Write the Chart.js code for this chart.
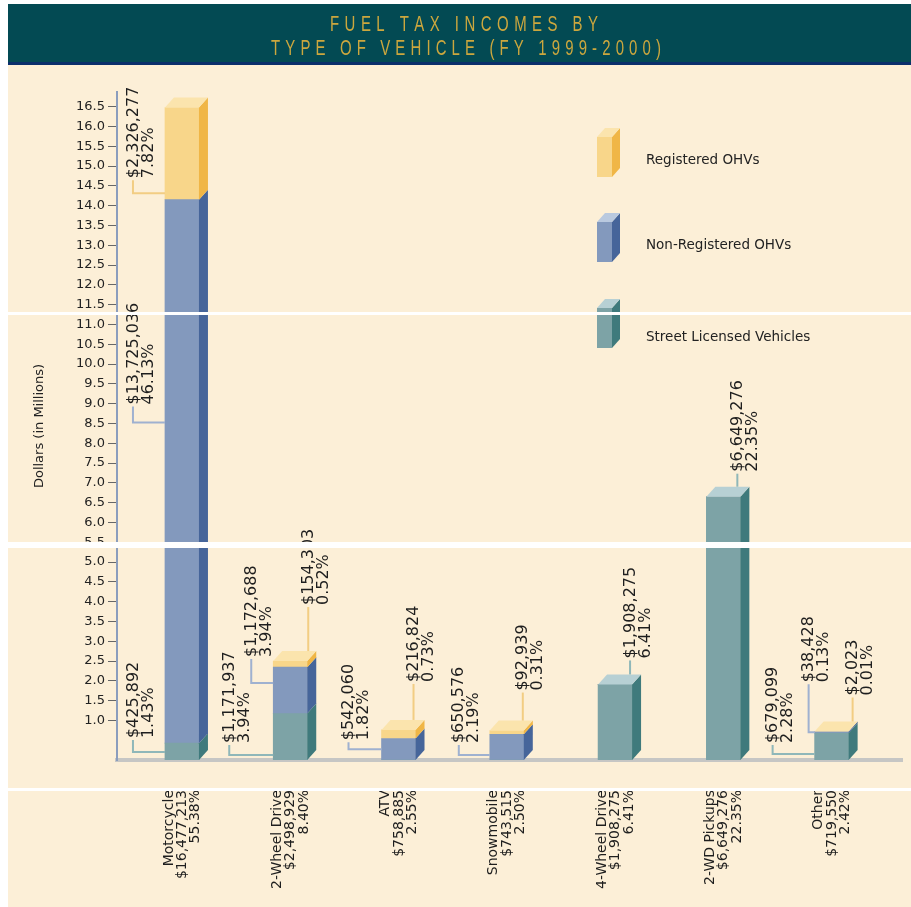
<html>
  <head>
    <meta charset="UTF-8" />
    <script src="https://cdn.jsdelivr.net/npm/chart.js"></script>
    <style>
      body { margin: 0; background: #fff; }
    </style>
  </head>
  <body>
    <canvas id="myChart" width="911" height="907"></canvas>
    <script>
      // ---- data (dollars in millions) ----
      const categories = ["Motorcycle", "2-Wheel Drive", "ATV", "Snowmobile", "4-Wheel Drive", "2-WD Pickups", "Other"];
      const categoryTotals = ["$16,477,213", "$2,498,929", "$758,885", "$743,515", "$1,908,275", "$6,649,276", "$719,550"];
      const categoryShares = ["55.38%", "8.40%", "2.55%", "2.50%", "6.41%", "22.35%", "2.42%"];

      const streetLicensed = [0.425892, 1.171937, 0, 0, 1.908275, 6.649276, 0.679099];
      const nonRegistered = [13.725036, 1.172688, 0.54206, 0.650576, 0, 0, 0.038428];
      const registered = [2.326277, 0.154303, 0.216824, 0.092939, 0, 0, 0.002023];

      const streetAmounts = ["$425,892", "$1,171,937", "", "", "$1,908,275", "$6,649,276", "$679,099"];
      const streetShares = ["1.43%", "3.94%", "", "", "6.41%", "22.35%", "2.28%"];
      const nonRegAmounts = ["$13,725,036", "$1,172,688", "$542,060", "$650,576", "", "", "$38,428"];
      const nonRegShares = ["46.13%", "3.94%", "1.82%", "2.19%", "", "", "0.13%"];
      const regAmounts = ["$2,326,277", "$154,303", "$216,824", "$92,939", "", "", "$2,023"];
      const regShares = ["7.82%", "0.52%", "0.73%", "0.31%", "", "", "0.01%"];

      const yTicks = [];
      for (let v = 1; v <= 16.5; v += 0.5) yTicks.push(v);

      // ---- look ----
      const FONT = '"DejaVu Sans", sans-serif';
      const CREAM = "#fcefd7";
      const DEPTH_X = 9;
      const DEPTH_Y = 10;

      const palette = {
        street: { front: "#7da3a6", side: "#3f7a7c", top: "#b7d0d4", line: "#8fb7b9" },
        nonReg: { front: "#8399bd", side: "#46659a", top: "#b9c9df", line: "#9fb1d0" },
        reg: { front: "#f8d68a", side: "#f0b646", top: "#fbe4ad", line: "#f2cd83" },
      };

      // where each value label sits, relative to its bar
      const labelLayout = {
        street: [
          { side: "left", dx: -32, at: 0.47, drop: 14 },
          { side: "left", dx: -44, at: 0.11, drop: 12 },
          null,
          null,
          { side: "top", dx: -2, lift: 16 },
          { side: "top", dx: -3, lift: 15 },
          { side: "left", dx: -42, at: 0.22, drop: 11 },
        ],
        nonReg: [
          { side: "left", dx: -32, at: 0.59, drop: 18 },
          { side: "left", dx: -22, at: 0.66, drop: 26 },
          { side: "left", dx: -33, at: 0.5, drop: 9 },
          { side: "left", dx: -31, at: 0.19, drop: 12 },
          null,
          null,
          { side: "left", dx: -6, at: 0.5, drop: 50 },
        ],
        reg: [
          { side: "left", dx: -32, at: 0.07, drop: 15 },
          { side: "top", dx: 1, lift: 46 },
          { side: "top", dx: -2, lift: 38 },
          { side: "top", dx: -1, lift: 30 },
          null,
          null,
          { side: "top", dx: 4, lift: 26 },
        ],
      };

      const xy = arr => arr.map((v, i) => ({ x: i, y: v }));

      const seriesInfo = [
        { key: "street", label: "Street Licensed Vehicles", values: streetLicensed, amounts: streetAmounts, shares: streetShares },
        { key: "nonReg", label: "Non-Registered OHVs", values: nonRegistered, amounts: nonRegAmounts, shares: nonRegShares },
        { key: "reg", label: "Registered OHVs", values: registered, amounts: regAmounts, shares: regShares },
      ];

      function drawSpaced(ctx, text, cx, y, width, squeeze) {
        const chars = [...text];
        const widths = chars.map(ch => ctx.measureText(ch).width * squeeze);
        const sum = widths.reduce((a, b) => a + b, 0);
        const gap = (width - sum) / (chars.length - 1);
        let x = cx - width / 2;
        chars.forEach((ch, i) => {
          ctx.save();
          ctx.translate(x, y);
          ctx.scale(squeeze, 1);
          ctx.fillText(ch, 0, 0);
          ctx.restore();
          x += widths[i] + gap;
        });
      }

      function drawBox3d(ctx, left, right, top, bottom, colors, withTop) {
        ctx.fillStyle = colors.side;
        ctx.beginPath();
        ctx.moveTo(right, top);
        ctx.lineTo(right + DEPTH_X, top - DEPTH_Y);
        ctx.lineTo(right + DEPTH_X, bottom - DEPTH_Y);
        ctx.lineTo(right, bottom);
        ctx.closePath();
        ctx.fill();
        if (withTop) {
          ctx.fillStyle = colors.top;
          ctx.beginPath();
          ctx.moveTo(left, top);
          ctx.lineTo(left + DEPTH_X, top - DEPTH_Y);
          ctx.lineTo(right + DEPTH_X, top - DEPTH_Y);
          ctx.lineTo(right, top);
          ctx.closePath();
          ctx.fill();
        }
      }

      const backdrop = {
        id: "backdrop",
        beforeDraw(chart) {
          const ctx = chart.ctx;
          ctx.save();
          ctx.fillStyle = "#fff";
          ctx.fillRect(0, 0, chart.width, chart.height);
          ctx.fillStyle = CREAM;
          ctx.fillRect(8, 4, chart.width - 8, chart.height - 4);
          ctx.fillStyle = "#034a53";
          ctx.fillRect(8, 4, chart.width - 8, 59);
          ctx.fillStyle = "#0b2f6b";
          ctx.fillRect(8, 62, chart.width - 8, 3);
          ctx.fillStyle = "#cca73e";
          ctx.font = '22px "Liberation Sans", sans-serif';
          ctx.textBaseline = "alphabetic";
          ctx.textAlign = "left";
          drawSpaced(ctx, "FUEL TAX INCOMES BY", 464, 31, 268, 0.68);
          drawSpaced(ctx, "TYPE OF VEHICLE (FY 1999-2000)", 466, 55, 390, 0.68);
          ctx.restore();
        },
      };

      const bars3d = {
        id: "bars3d",
        afterDatasetsDraw(chart) {
          const ctx = chart.ctx;
          ctx.save();
          categories.forEach((_, i) => {
            let topIdx = -1;
            seriesInfo.forEach((s, d) => { if (s.values[i] > 0) topIdx = d; });
            seriesInfo.forEach((s, d) => {
              if (!(s.values[i] > 0)) return;
              const el = chart.getDatasetMeta(d).data[i];
              const { x, y, base, width } = el.getProps(["x", "y", "base", "width"], true);
              drawBox3d(ctx, x - width / 2, x + width / 2, y, base, palette[s.key], d === topIdx);
            });
          });
          ctx.restore();
        },
      };

      const valueLabels = {
        id: "valueLabels",
        afterDraw(chart) {
          const ctx = chart.ctx;
          ctx.save();
          ctx.font = "16px " + FONT;
          ctx.fillStyle = "#1e1e1e";
          categories.forEach((_, i) => {
            let stackTop = chart.chartArea.bottom;
            seriesInfo.forEach((s, d) => {
              if (s.values[i] > 0) stackTop = chart.getDatasetMeta(d).data[i].y;
            });
            seriesInfo.forEach((s, d) => {
              const lay = labelLayout[s.key][i];
              if (!lay || !s.amounts[i]) return;
              const el = chart.getDatasetMeta(d).data[i];
              const { x, y, base, width } = el.getProps(["x", "y", "base", "width"], true);
              const left = x - width / 2;
              const right = x + width / 2;
              let lineX, textBottom;
              ctx.strokeStyle = palette[s.key].line;
              ctx.lineWidth = 2;
              ctx.beginPath();
              if (lay.side === "left") {
                lineX = left + lay.dx;
                const attachY = base - (base - y) * lay.at;
                textBottom = attachY - lay.drop;
                ctx.moveTo(lineX, textBottom + 2);
                ctx.lineTo(lineX, attachY);
                ctx.lineTo(left, attachY);
              } else {
                lineX = right + lay.dx;
                const lineEnd = stackTop - DEPTH_Y;
                textBottom = lineEnd - lay.lift;
                ctx.moveTo(lineX, textBottom + 2);
                ctx.lineTo(lineX, lineEnd);
              }
              ctx.stroke();
              ctx.save();
              ctx.translate(lineX + 8, textBottom);
              ctx.rotate(-Math.PI / 2);
              ctx.textAlign = "left";
              ctx.textBaseline = "middle";
              ctx.fillText(s.amounts[i], 0, -7.5);
              ctx.fillText(s.shares[i], 0, 7.5);
              ctx.restore();
            });
          });
          ctx.restore();
        },
      };

      const sideLegend = {
        id: "sideLegend",
        afterDraw(chart) {
          const ctx = chart.ctx;
          const rows = [
            { s: seriesInfo[2], top: 137, text: 160 },
            { s: seriesInfo[1], top: 222, text: 245 },
            { s: seriesInfo[0], top: 308, text: 337 },
          ];
          ctx.save();
          rows.forEach(r => {
            const c = palette[r.s.key];
            ctx.fillStyle = c.front;
            ctx.fillRect(597, r.top, 15, 40);
            ctx.fillStyle = c.side;
            ctx.beginPath();
            ctx.moveTo(612, r.top);
            ctx.lineTo(620, r.top - 9);
            ctx.lineTo(620, r.top + 31);
            ctx.lineTo(612, r.top + 40);
            ctx.closePath();
            ctx.fill();
            ctx.fillStyle = c.top;
            ctx.beginPath();
            ctx.moveTo(597, r.top);
            ctx.lineTo(605, r.top - 9);
            ctx.lineTo(620, r.top - 9);
            ctx.lineTo(612, r.top);
            ctx.closePath();
            ctx.fill();
            ctx.fillStyle = "#222";
            ctx.font = "13.5px " + FONT;
            ctx.textAlign = "left";
            ctx.textBaseline = "middle";
            ctx.fillText(r.s.label, 646, r.text);
          });
          ctx.restore();
        },
      };

      // scan seams of the printed page
      const seams = {
        id: "seams",
        afterDraw(chart) {
          const ctx = chart.ctx;
          ctx.save();
          ctx.fillStyle = "#fff";
          ctx.fillRect(0, 312, chart.width, 3);
          ctx.fillRect(0, 542, chart.width, 6);
          ctx.fillRect(0, 788, chart.width, 3);
          ctx.restore();
        },
      };

      Chart.defaults.font.family = FONT;
      Chart.defaults.color = "#222";

      new Chart(document.getElementById("myChart"), {
        type: "bar",
        data: {
          datasets: seriesInfo.map(s => ({
            label: s.label,
            data: xy(s.values),
            backgroundColor: palette[s.key].front,
            borderWidth: 0,
            barThickness: 34,
          })),
        },
        options: {
          responsive: false,
          animation: false,
          devicePixelRatio: 1,
          layout: { padding: { top: 92, right: 9, left: 0, bottom: 0 } },
          plugins: {
            legend: { display: false },
            tooltip: { enabled: false },
            title: { display: false },
          },
          scales: {
            x: {
              type: "linear",
              stacked: true,
              offset: false,
              min: -0.6,
              max: 6.65,
              afterBuildTicks: s => { s.ticks = categories.map((_, i) => ({ value: i })); },
              afterFit: s => { s.height = 147; },
              grid: { display: false, offset: false },
              border: { display: true, color: "#c6c6c4", width: 4 },
              ticks: {
                autoSkip: false,
                minRotation: 90,
                maxRotation: 90,
                padding: 22,
                labelOffset: -13,
                color: "#1e1e1e",
                font: { size: 14, lineHeight: 0.96 },
                callback: v => [categories[v], categoryTotals[v], categoryShares[v]],
              },
            },
            y: {
              stacked: true,
              min: 0,
              max: 16.87,
              afterBuildTicks: s => { s.ticks = yTicks.map(v => ({ value: v })); },
              afterFit: s => { s.width = 117; },
              grid: { drawOnChartArea: false, drawTicks: true, tickLength: 9, color: "#666", lineWidth: 1 },
              border: { display: true, color: "#8b9dbd", width: 2 },
              title: {
                display: true,
                text: "Dollars (in Millions)",
                color: "#222",
                font: { size: 13 },
                padding: { top: 32, bottom: 0 },
              },
              ticks: {
                padding: 3,
                color: "#222",
                font: { size: 13 },
                callback: v => v.toFixed(1),
              },
            },
          },
        },
        plugins: [backdrop, bars3d, valueLabels, sideLegend, seams],
      });
    </script>
  </body>
</html>
